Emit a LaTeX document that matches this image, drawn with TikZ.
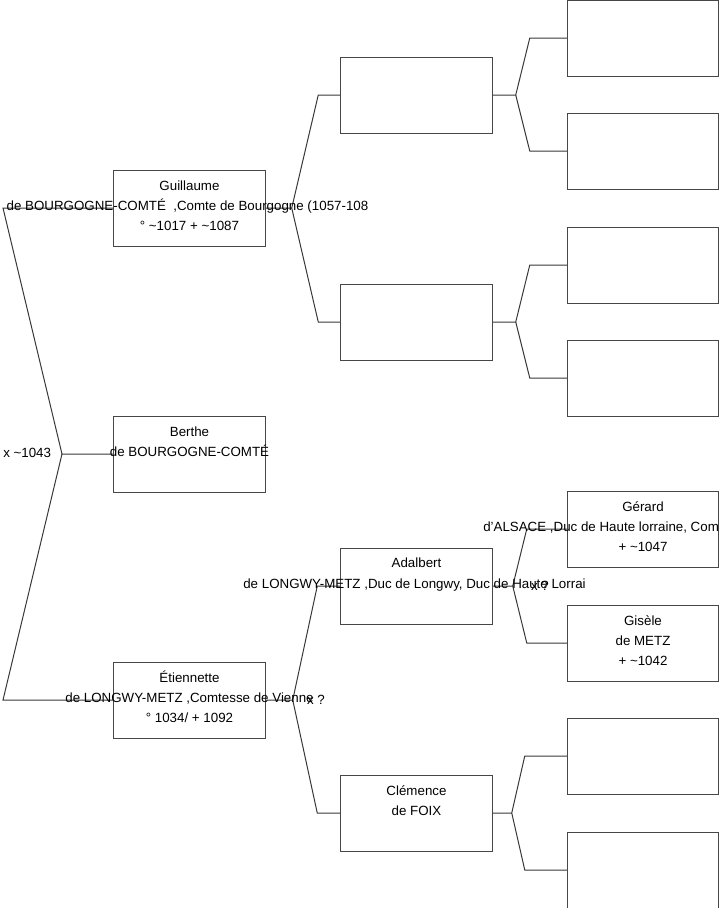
\documentclass[tikz,border=0pt]{standalone}
\usepackage{fontspec}
\setmainfont{Liberation Sans}
\usetikzlibrary{calc}
\begin{document}
\begin{tikzpicture}[x=0.75pt,y=-0.75pt,
  box/.style={draw=black!72, line width=0.75pt, minimum width=113.6pt, minimum height=57pt, inner sep=0pt},
  conn/.style={draw=black!78, line width=0.75pt},
  txt/.style={anchor=base, inner sep=0pt, font=\fontsize{10}{15}\selectfont},
  txtw/.style={anchor=base west, inner sep=0pt, font=\fontsize{10}{15}\selectfont}]
\useasboundingbox (0,0) rectangle (719,908);
\clip (0,0) rectangle (719,908);
% level 1
\node[box] (G) at (189.5,208) {};
\node[box] (B) at (189.5,454) {};
\node[box] (E) at (189.5,700) {};
% level 2
\node[box] (Q1) at (416.5,95) {};
\node[box] (Q2) at (416.5,322) {};
\node[box] (A) at (416.5,586) {};
\node[box] (C) at (416.5,813) {};
% level 3
\node[box] (P1) at (643,38) {};
\node[box] (P2) at (643,151) {};
\node[box] (P3) at (643,265) {};
\node[box] (P4) at (643,378) {};
\node[box] (Ge) at (643,529) {};
\node[box] (Gi) at (643,643) {};
\node[box] (P7) at (643,756) {};
\node[box] (P8) at (643,870) {};
% forks
\coordinate (f0) at (62,454);
\coordinate (f0a) at (3,208);
\coordinate (f0b) at (3,700);
\draw[conn] (B.west) -- (f0) -- (f0a) -- (G.west);
\draw[conn] (f0) -- (f0b) -- (E.west);
\coordinate (fG) at ($(G.east)+(26,0)$);
\draw[conn] (G.east) -- (fG) -- ($(Q1.west)+(-22,0)$) -- (Q1.west);
\draw[conn] (fG) -- ($(Q2.west)+(-22,0)$) -- (Q2.west);
\coordinate (fE) at ($(E.east)+(27,0)$);
\draw[conn] (E.east) -- (fE) -- ($(A.west)+(-23,0)$) -- (A.west);
\draw[conn] (fE) -- ($(C.west)+(-23,0)$) -- (C.west);
\coordinate (fQ1) at ($(Q1.east)+(23,0)$);
\draw[conn] (Q1.east) -- (fQ1) -- ($(P1.west)+(-37,0)$) -- (P1.west);
\draw[conn] (fQ1) -- ($(P2.west)+(-37,0)$) -- (P2.west);
\coordinate (fQ2) at ($(Q2.east)+(23,0)$);
\draw[conn] (Q2.east) -- (fQ2) -- ($(P3.west)+(-37,0)$) -- (P3.west);
\draw[conn] (fQ2) -- ($(P4.west)+(-37,0)$) -- (P4.west);
\coordinate (fA) at ($(A.east)+(20,0)$);
\draw[conn] (A.east) -- (fA) -- ($(Ge.west)+(-40,0)$) -- (Ge.west);
\draw[conn] (fA) -- ($(Gi.west)+(-40,0)$) -- (Gi.west);
\coordinate (fC) at ($(C.east)+(19,0)$);
\draw[conn] (C.east) -- (fC) -- ($(P7.west)+(-42,0)$) -- (P7.west);
\draw[conn] (fC) -- ($(P8.west)+(-42,0)$) -- (P8.west);
% texts
\node[txt] (g1) at ($(G.north)+(0,20.5)$) {Guillaume};
\node[txt] (g2) at ($(G.north)+(-2,40.5)$) {de BOURGOGNE-COMTÉ\ \ ,Comte de Bourgogne (1057-108};
\node[txt] (g3) at ($(G.north)+(0,60.5)$) {° \textasciitilde1017 + \textasciitilde1087};
\node[txt] (b1) at ($(B.north)+(0,20.5)$) {Berthe};
\node[txt] (b2) at ($(B.north)+(0,40.5)$) {de BOURGOGNE-COMTÉ};
\node[txt] (e1) at ($(E.north)+(0,20.5)$) {Étiennette};
\node[txt] (e2) at ($(E.north)+(0,40.5)$) {de LONGWY-METZ ,Comtesse de Vienne};
\node[txt] (e3) at ($(E.north)+(0,60.5)$) {° 1034/ + 1092};
\node[txt] (a1) at ($(A.north)+(0,19.5)$) {Adalbert};
\node[txt] (a2) at ($(A.north)+(-2,40.5)$) {de LONGWY-METZ ,Duc de Longwy, Duc de Haute Lorrai};
\node[txt] (c1) at ($(C.north)+(0,20.5)$) {Clémence};
\node[txt] (c2) at ($(C.north)+(0,40.5)$) {de FOIX};
\node[txt] (ge1) at ($(Ge.north)+(0,20.5)$) {Gérard};
\node[txtw] (ge2) at ($(Ge.north)+(-160,40.5)$) {d'ALSACE ,Duc de Haute lorraine, Com};
\node[txt] (ge3) at ($(Ge.north)+(0,60.5)$) {+ \textasciitilde1047};
\node[txt] (gi1) at ($(Gi.north)+(0,20.5)$) {Gisèle};
\node[txt] (gi2) at ($(Gi.north)+(0,40.5)$) {de METZ};
\node[txt] (gi3) at ($(Gi.north)+(0,60.5)$) {+ \textasciitilde1042};
% marriage labels
\node[txtw] (m0) at ($(f0)+(-59,3.5)$) {x \textasciitilde1043};
\node[txtw] (mE) at ($(fE)+(14,4.5)$) {x ?};
\node[txtw] (mA) at ($(fA)+(18,4.5)$) {x ?};
\end{tikzpicture}
\end{document}
